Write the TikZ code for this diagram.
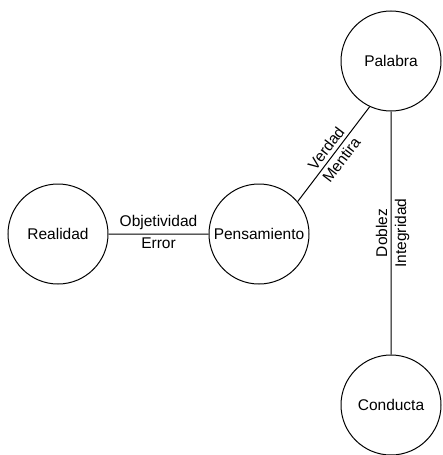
\documentclass[tikz,border=0pt]{standalone}
\usepackage{fontspec}
\setmainfont{Liberation Sans}
\usetikzlibrary{positioning}
\tikzset{
    concepto/.style={circle, draw, line width=1pt, minimum size=100pt, inner sep=0pt}, % the round nodes
    every node/.style={font=\fontsize{15.5}{18}\selectfont}, % text size of all labels
    node distance=201pt, % distance between Realidad and Pensamiento
}
\begin{document}
\begin{tikzpicture}[x=1pt, y=-1pt, line width=1pt]
    \useasboundingbox (0,0) rectangle (442,455);
    \node[concepto] (realidad) at (58,234) {Realidad};
    \node[concepto, right of=realidad] (pensamiento) {Pensamiento};
    \node[concepto] (palabra) at (391,61) {Palabra};
    \node[concepto, below of=palabra, node distance=344pt] (conducta) {Conducta};
    \draw (realidad) -- node[above]{Objetividad} node[below]{Error} (pensamiento)
    (pensamiento.40) -- node[above, sloped]{Verdad} node[below, sloped]{Mentira} (palabra.245)
    (conducta) -- node[above, sloped]{Doblez} node[below, sloped]{Integridad} (palabra);
\end{tikzpicture}
\end{document}
